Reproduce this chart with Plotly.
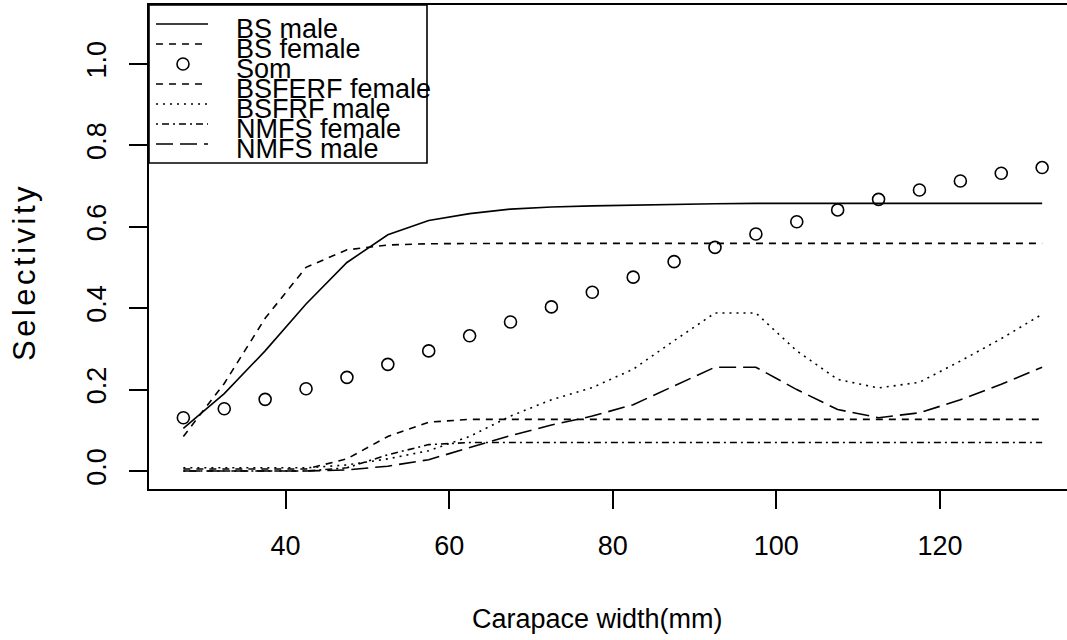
import plotly.graph_objects as go

# ---- data ----
width_mm = [27.5, 32.5, 37.5, 42.5, 47.5, 52.5, 57.5, 62.5, 67.5, 72.5, 77.5,
            82.5, 87.5, 92.5, 97.5, 102.5, 107.5, 112.5, 117.5, 122.5, 127.5, 132.5]
bs_male = [0.105, 0.19, 0.295, 0.41, 0.512, 0.58, 0.615, 0.632, 0.643, 0.648, 0.651,
           0.653, 0.655, 0.656, 0.657, 0.657, 0.657, 0.657, 0.657, 0.657, 0.657, 0.657]
bs_female = [0.085, 0.215, 0.375, 0.5, 0.543, 0.555, 0.558, 0.559, 0.559, 0.559, 0.559,
             0.559, 0.559, 0.559, 0.559, 0.559, 0.559, 0.559, 0.559, 0.559, 0.559, 0.559]
som = [0.131, 0.153, 0.176, 0.202, 0.23, 0.262, 0.295, 0.332, 0.366, 0.403, 0.439,
       0.476, 0.514, 0.549, 0.582, 0.612, 0.641, 0.667, 0.690, 0.712, 0.731, 0.745]
bsfrf_female = [0.005, 0.005, 0.005, 0.005, 0.03, 0.085, 0.12, 0.127, 0.127, 0.127, 0.127,
                0.127, 0.127, 0.127, 0.127, 0.127, 0.127, 0.127, 0.127, 0.127, 0.127, 0.127]
bsfrf_male = [0.008, 0.008, 0.008, 0.008, 0.015, 0.03, 0.05, 0.085, 0.135, 0.175, 0.205,
              0.25, 0.32, 0.388, 0.388, 0.295, 0.225, 0.204, 0.218, 0.27, 0.325, 0.385]
nmfs_female = [0.0, 0.0, 0.0, 0.0, 0.008, 0.04, 0.065, 0.07, 0.07, 0.07, 0.07,
               0.07, 0.07, 0.07, 0.07, 0.07, 0.07, 0.07, 0.07, 0.07, 0.07, 0.07]
nmfs_male = [0.0, 0.0, 0.0, 0.0, 0.003, 0.012, 0.028, 0.057, 0.087, 0.113, 0.135,
             0.163, 0.21, 0.255, 0.255, 0.2, 0.151, 0.131, 0.143, 0.175, 0.213, 0.255]

x_ticks = [40, 60, 80, 100, 120]
y_ticks = [0.0, 0.2, 0.4, 0.6, 0.8, 1.0]
y_tick_labels = ["0.0", "0.2", "0.4", "0.6", "0.8", "1.0"]

legend_labels = ["BS male", "BS female", "Som", "BSFERF female", "BSFRF male",
                 "NMFS female", "NMFS male"]

# ---- styles ----
FONT = "Liberation Sans, Arial, sans-serif"
FS = 27
LW = 1.6
DASHED = "7px,6px"
DOTTED = "2px,5px"
DOTDASH = "2px,4px,7px,4px"
LONGDASH = "17px,7px"
legend_styles = ["solid", DASHED, None, DASHED, DOTTED, DOTDASH, LONGDASH]

W, H = 1067, 640
ML, MT, MB = 149, 5, 151
PW = W - ML            # plot width in px (plot region is clipped on the right)
PH = H - MT - MB
PX_PER_UNIT = 8.179
X0 = 23.3
X1 = X0 + PW / PX_PER_UNIT

fig = go.Figure()

series = [
    (bs_male, "solid"),
    (bs_female, DASHED),
    (bsfrf_female, DASHED),
    (bsfrf_male, DOTTED),
    (nmfs_female, DOTDASH),
    (nmfs_male, LONGDASH),
]
for vals, dash in series:
    fig.add_trace(go.Scatter(x=width_mm, y=vals, mode="lines",
                             line=dict(color="black", width=LW, dash=dash),
                             showlegend=False, hoverinfo="skip"))

fig.add_trace(go.Scatter(x=width_mm, y=som, mode="markers",
                         marker=dict(symbol="circle-open", size=12,
                                     color="black", line=dict(width=1.6, color="black")),
                         showlegend=False, hoverinfo="skip"))


def px_to_paper(px, py):
    return (px - ML) / PW, (H - MB - py) / PH


shapes = []
# legend box
bx0, by0 = px_to_paper(149, 5)
bx1, by1 = px_to_paper(427, 163)
shapes.append(dict(type="rect", xref="paper", yref="paper", x0=bx0, y0=by1, x1=bx1, y1=by0,
                   line=dict(color="black", width=1.6), fillcolor="white", layer="above"))
annotations = []
for i, (lab, dash) in enumerate(zip(legend_labels, legend_styles)):
    row_y = 24 + 20 * i
    if dash is None:
        cx, cy = px_to_paper(183, row_y)
        shapes.append(dict(type="circle", xref="paper", yref="paper",
                           xsizemode="pixel", ysizemode="pixel", xanchor=cx, yanchor=cy,
                           x0=-6, x1=6, y0=-6, y1=6,
                           line=dict(color="black", width=1.6), layer="above"))
    else:
        lx0, ly = px_to_paper(156, row_y)
        lx1, _ = px_to_paper(208, row_y)
        shapes.append(dict(type="line", xref="paper", yref="paper", x0=lx0, x1=lx1, y0=ly, y1=ly,
                           line=dict(color="black", width=LW, dash=dash), layer="above"))
    tx, ty = px_to_paper(234, row_y + 5)
    annotations.append(dict(text=lab, xref="paper", yref="paper", x=tx, y=ty,
                            xanchor="left", yanchor="middle", showarrow=False,
                            font=dict(family=FONT, size=FS, color="black")))

# axis titles
tx, ty = px_to_paper(597, 619)
annotations.append(dict(text="Carapace width(mm)", xref="paper", yref="paper", x=tx, y=ty,
                        xanchor="center", yanchor="middle", showarrow=False,
                        font=dict(family=FONT, size=FS, color="black")))
tx, ty = px_to_paper(24, 272)
annotations.append(dict(text='<span style="letter-spacing:3.5px">Selectivity</span>',
                        xref="paper", yref="paper", x=tx, y=ty,
                        xanchor="center", yanchor="middle", showarrow=False, textangle=-90,
                        font=dict(family=FONT, size=31, color="black")))

fig.update_layout(
    width=W, height=H,
    margin=dict(l=ML, r=0, t=MT, b=MB, pad=0),
    plot_bgcolor="white", paper_bgcolor="white",
    font=dict(family=FONT, size=FS, color="black"),
    shapes=shapes, annotations=annotations,
    xaxis=dict(range=[X0, X1], tickmode="array", tickvals=x_ticks,
               ticktext=[str(v) for v in x_ticks],
               showgrid=False, zeroline=False, showline=True, mirror=True,
               linecolor="black", linewidth=2, ticks="outside", ticklen=18,
               tickwidth=2, tickcolor="black", ticklabelstandoff=14),
    yaxis=dict(range=[-0.044, 1.144], tickmode="array", tickvals=y_ticks,
               ticktext=y_tick_labels, tickangle=-90,
               showgrid=False, zeroline=False, showline=True, mirror=False,
               linecolor="black", linewidth=2, ticks="outside", ticklen=18,
               tickwidth=2, tickcolor="black", ticklabelstandoff=12),
)

fig.write_html("out.html", config={"displayModeBar": False},
               post_script="document.body.style.margin='0px';")
